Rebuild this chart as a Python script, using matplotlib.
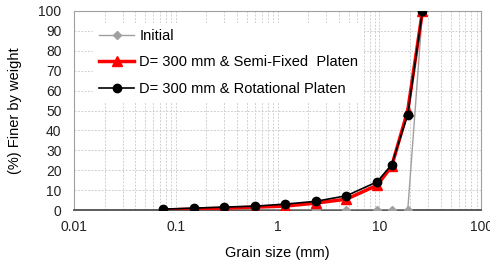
import numpy as np
import matplotlib.pyplot as plt

plt.rcParams['font.family'] = ['Liberation Sans', 'DejaVu Sans']

# sieve sizes (mm)
sizes = [0.075, 0.15, 0.3, 0.6, 1.18, 2.36, 4.75, 9.5, 13.2, 19, 26.5]
initial = [0, 0, 0, 0, 0, 0, 0, 0, 0, 0, 100]
semi_fixed = [0, 0.5, 1, 1.5, 2, 3.5, 5.5, 12.5, 22, 50, 100]
rotational = [0.5, 1, 1.5, 2, 3, 4.4, 7.2, 14.2, 22.8, 48, 100]

fig = plt.figure(figsize=(4.9, 2.61), dpi=100)
ax = fig.add_axes([0.151, 0.195, 0.831, 0.763])

ax.plot(sizes, initial, color='#a0a0a0', lw=1, marker='D', ms=4,
        label='Initial', zorder=3)
ax.plot(sizes, semi_fixed, color='#ff0000', lw=2.5, marker='^', ms=7,
        label='D= 300 mm & Semi-Fixed  Platen', zorder=4)
ax.plot(sizes, rotational, color='black', lw=1.2, marker='o', ms=6,
        label='D= 300 mm & Rotational Platen', zorder=5)

ax.set_xscale('log')
ax.set_xlim(0.01, 100)
ax.set_ylim(0, 100)
ax.set_yticks(range(0, 101, 10))
ax.set_xticks([0.01, 0.1, 1, 10, 100])
ax.set_xticklabels(['0.01', '0.1', '1', '10', '100'])
ax.tick_params(axis='y', length=0, labelsize=10, colors='#222222', pad=9)
ax.tick_params(axis='x', length=0, labelsize=10, colors='#222222', pad=7)
ax.tick_params(axis='x', which='minor', length=0)

ax.grid(True, which='both', color='#d0d0d0', lw=0.7, ls=(0, (2, 1.5)))
ax.set_axisbelow(True)
for s in ['top', 'right', 'left']:
    ax.spines[s].set_color('#a0a0a0')
ax.spines['bottom'].set_color('#404040')
ax.spines['bottom'].set_linewidth(1.2)

ax.set_xlabel('Grain size (mm)', fontsize=10.5, labelpad=9)
ax.set_ylabel('(%) Finer by weight', fontsize=10.5, labelpad=12)

leg = ax.legend(loc='upper left', bbox_to_anchor=(0.03, 0.975), fontsize=10.5,
                frameon=True, fancybox=False, edgecolor='none', framealpha=1,
                labelspacing=0.85, handlelength=2.4, handletextpad=0.35)

fig.savefig('out.png', dpi=100)
